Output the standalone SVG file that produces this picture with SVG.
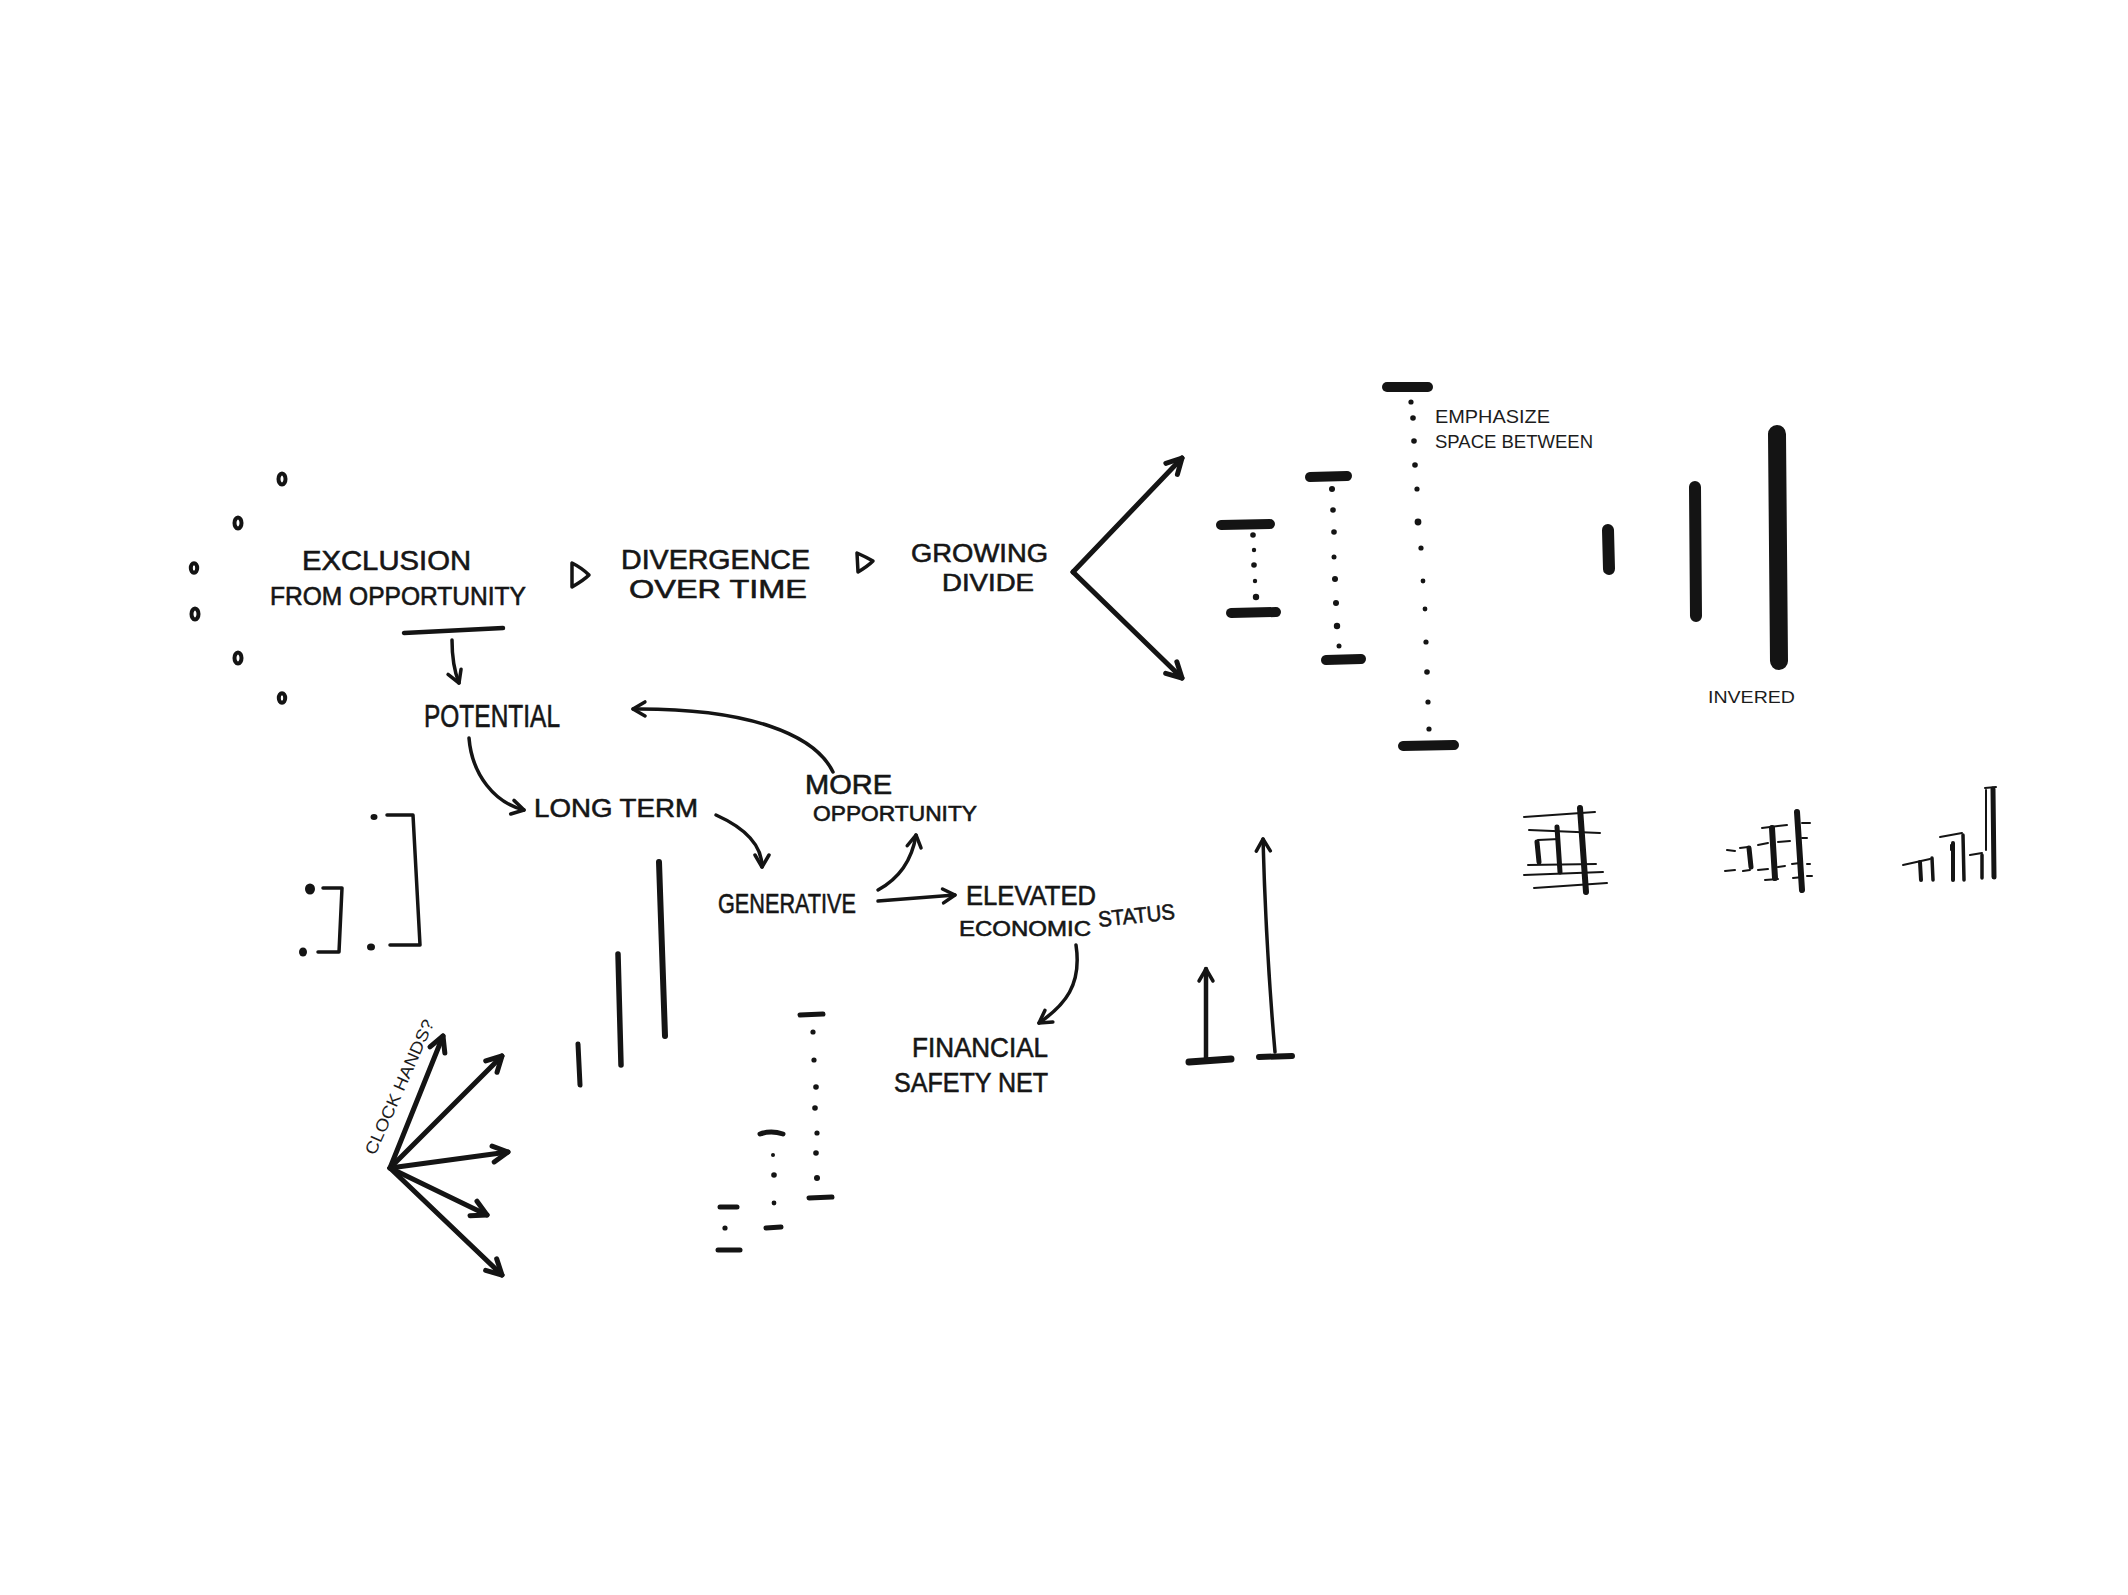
<svg xmlns="http://www.w3.org/2000/svg" width="2128" height="1595" viewBox="0 0 2128 1595">
<style>
  .t{font-family:"Liberation Sans","DejaVu Sans",sans-serif;fill:#161616;stroke:#161616;stroke-width:0.6;}
  .s{font-family:"Liberation Sans","DejaVu Sans",sans-serif;fill:#1c1c1c;}
  .ln{fill:none;stroke:#141414;stroke-linecap:round;stroke-linejoin:round;}
  .c{stroke-width:3.5;}
  .h{stroke-width:5;}
  .bar{fill:none;stroke:#141414;stroke-linecap:round;}
  .dot{fill:#141414;}
</style>
<defs>
  <marker id="aT" markerUnits="userSpaceOnUse" viewBox="-20 -12 24 24" refX="0" refY="0" markerWidth="24" markerHeight="24" orient="auto" overflow="visible">
    <path d="M-15,-8 L0,0 L-15,8" fill="none" stroke="#141414" stroke-width="5" stroke-linecap="round" stroke-linejoin="round"/>
  </marker>
  <marker id="a" markerUnits="userSpaceOnUse" viewBox="-20 -12 24 24" refX="0" refY="0" markerWidth="24" markerHeight="24" orient="auto" overflow="visible">
    <path d="M-12,-7 L0,0 L-12,7" fill="none" stroke="#141414" stroke-width="3.5" stroke-linecap="round" stroke-linejoin="round"/>
  </marker>
</defs>
<rect width="2128" height="1595" fill="#ffffff"/>

<!-- nodes -->
<g id="exclusion">
  <text class="t" x="302" y="570" font-size="28" textLength="169" lengthAdjust="spacingAndGlyphs">EXCLUSION</text>
  <text class="t" x="270" y="605" font-size="25" textLength="256" lengthAdjust="spacingAndGlyphs">FROM OPPORTUNITY</text>
  <path class="ln" stroke-width="4.5" d="M404,633 L503,628"/>
</g>
<g id="divergence">
  <text class="t" x="621" y="569" font-size="27" textLength="189" lengthAdjust="spacingAndGlyphs">DIVERGENCE</text>
  <text class="t" x="629" y="598" font-size="26" textLength="178" lengthAdjust="spacingAndGlyphs">OVER TIME</text>
</g>
<g id="growing-divide">
  <text class="t" x="911" y="562" font-size="26" textLength="137" lengthAdjust="spacingAndGlyphs">GROWING</text>
  <text class="t" x="942" y="591" font-size="24" textLength="92" lengthAdjust="spacingAndGlyphs">DIVIDE</text>
</g>
<g id="potential">
  <text class="t" x="424" y="727" font-size="31" textLength="136" lengthAdjust="spacingAndGlyphs">POTENTIAL</text>
</g>
<g id="long-term">
  <text class="t" x="534" y="817" font-size="26" textLength="164" lengthAdjust="spacingAndGlyphs">LONG TERM</text>
</g>
<g id="more-opportunity">
  <text class="t" x="805" y="794" font-size="27" textLength="87" lengthAdjust="spacingAndGlyphs">MORE</text>
  <text class="t" x="813" y="821" font-size="22" textLength="164" lengthAdjust="spacingAndGlyphs">OPPORTUNITY</text>
</g>
<g id="generative">
  <text class="t" x="718" y="913" font-size="28" textLength="138" lengthAdjust="spacingAndGlyphs">GENERATIVE</text>
</g>
<g id="elevated">
  <text class="t" x="966" y="905" font-size="28" textLength="130" lengthAdjust="spacingAndGlyphs">ELEVATED</text>
  <text class="t" x="959" y="936" font-size="22" textLength="132" lengthAdjust="spacingAndGlyphs">ECONOMIC</text>
  <text class="t" x="1099" y="927" font-size="22" textLength="77" lengthAdjust="spacingAndGlyphs" transform="rotate(-6 1099 927)">STATUS</text>
</g>
<g id="financial">
  <text class="t" x="912" y="1057" font-size="28" textLength="136" lengthAdjust="spacingAndGlyphs">FINANCIAL</text>
  <text class="t" x="894" y="1092" font-size="28" textLength="154" lengthAdjust="spacingAndGlyphs">SAFETY NET</text>
</g>

<!-- opportunity dots -->
<g id="dots" fill="#ffffff" stroke="#141414" stroke-width="4">
  <ellipse cx="282" cy="479" rx="3.5" ry="5.5"/>
  <ellipse cx="238" cy="523" rx="3.5" ry="5.5"/>
  <ellipse cx="194" cy="568" rx="3.2" ry="4.8"/>
  <ellipse cx="195" cy="614" rx="3.5" ry="5.5"/>
  <ellipse cx="238" cy="658" rx="3.5" ry="5.5"/>
  <ellipse cx="282" cy="698" rx="3.2" ry="4.8"/>
</g>

<!-- connectors -->
<g id="connectors" class="ln">
  <path class="c" d="M572,563 L572,587 Q584,580 589,575 Q582,568 572,563 Z"/>
  <path class="c" d="M857,553 L858,572 Q868,566 873,561 Q866,557 857,553 Z"/>
  <path class="c" d="M452,640 C452,660 455,673 459,683" marker-end="url(#a)"/>
  <path class="c" d="M469,738 C472,775 495,803 524,810" marker-end="url(#a)"/>
  <path class="c" d="M716,815 C745,828 762,845 762,867" marker-end="url(#a)"/>
  <path class="c" d="M878,890 C900,878 912,860 916,835" marker-end="url(#a)"/>
  <path class="c" d="M878,901 L955,895" marker-end="url(#a)"/>
  <path class="c" d="M833,772 C815,735 750,708 633,709" marker-end="url(#a)"/>
  <path class="c" d="M1076,945 C1082,985 1065,1005 1039,1023" marker-end="url(#a)"/>
  <path class="h" d="M1073,572 L1182,458" marker-end="url(#aT)"/>
  <path class="h" d="M1073,572 L1182,678" marker-end="url(#aT)"/>
</g>

<!-- growing divide bars -->
<g id="divide-bars">
  <g class="bar" stroke-width="10">
    <path d="M1221,525 L1270,524"/><path d="M1231,613 L1276,612"/>
    <path d="M1310,477 L1347,476"/><path d="M1326,660 L1361,659"/>
    <path d="M1387,387 L1428,387"/><path d="M1403,746 L1454,745"/>
  </g>
  <g class="dot">
    <circle cx="1253" cy="535" r="2.8"/><circle cx="1254" cy="550" r="2.2"/><circle cx="1254" cy="565" r="2.8"/><circle cx="1255" cy="581" r="2.2"/><circle cx="1256" cy="597" r="3.2"/>
    <circle cx="1332" cy="489" r="3"/><circle cx="1333" cy="510" r="2.8"/><circle cx="1334" cy="532" r="2.8"/><circle cx="1334" cy="557" r="2.5"/><circle cx="1335" cy="579" r="3"/><circle cx="1336" cy="603" r="3"/><circle cx="1337" cy="626" r="3.2"/><circle cx="1339" cy="646" r="2.5"/>
    <circle cx="1411" cy="402" r="2.6"/><circle cx="1413" cy="418" r="2.8"/><circle cx="1414" cy="441" r="2.8"/><circle cx="1415" cy="465" r="2.8"/><circle cx="1417" cy="489" r="2.6"/><circle cx="1418" cy="522" r="3.4"/><circle cx="1421" cy="548" r="2.6"/><circle cx="1423" cy="581" r="2.4"/><circle cx="1425" cy="609" r="2.4"/><circle cx="1426" cy="642" r="2.6"/><circle cx="1427" cy="672" r="2.8"/><circle cx="1428" cy="702" r="2.6"/><circle cx="1429" cy="729" r="2.6"/>
  </g>
  <text class="s" x="1435" y="423" font-size="18" textLength="115" lengthAdjust="spacingAndGlyphs">EMPHASIZE</text>
  <text class="s" x="1435" y="448" font-size="18" textLength="158" lengthAdjust="spacingAndGlyphs">SPACE BETWEEN</text>
</g>

<!-- inverted bars -->
<g id="inverted">
  <g class="bar">
    <path stroke-width="12" d="M1608,530 L1609,569"/>
    <path stroke-width="12" d="M1695,487 L1696,616"/>
    <path stroke-width="18" d="M1777,434 L1779,661"/>
  </g>
  <text class="s" x="1708" y="703" font-size="17" textLength="87" lengthAdjust="spacingAndGlyphs">INVERED</text>
</g>

<!-- brackets -->
<g id="brackets">
  <path class="ln" stroke-width="3.5" d="M387,815 L413,815 L420,945 L390,945"/>
  <path class="ln" stroke-width="3.5" d="M323,888 L342,888 L339,952 L318,952"/>
  <g class="dot">
    <ellipse cx="374" cy="817" rx="3.5" ry="3"/>
    <ellipse cx="371" cy="947" rx="4" ry="3.5"/>
    <ellipse cx="310" cy="889" rx="5" ry="5.5"/>
    <ellipse cx="303" cy="952" rx="4" ry="4.5"/>
  </g>
</g>

<!-- rising bars -->
<g id="rising-bars" class="bar">
  <path stroke-width="5" d="M578,1044 L580,1085"/>
  <path stroke-width="5.5" d="M618,954 L621,1065"/>
  <path stroke-width="6" d="M659,862 L665,1036"/>
</g>

<!-- clock hands -->
<g id="clock-hands" class="ln">
  <path class="h" d="M390,1168 L443,1036" marker-end="url(#aT)"/>
  <path class="h" d="M390,1168 L502,1056" marker-end="url(#aT)"/>
  <path class="h" d="M390,1168 L508,1152" marker-end="url(#aT)"/>
  <path class="h" d="M390,1168 L487,1215" marker-end="url(#aT)"/>
  <path class="h" d="M390,1168 L502,1275" marker-end="url(#aT)"/>
</g>
<text class="s" x="375" y="1156" font-size="17" textLength="146" lengthAdjust="spacingAndGlyphs" transform="rotate(-66 375 1156)">CLOCK HANDS?</text>

<!-- small dotted bars -->
<g id="dotted-steps">
  <g class="bar" stroke-width="5">
    <path d="M800,1015 L823,1014"/><path d="M809,1198 L832,1197"/>
    <path d="M760,1134 Q771,1130 783,1134"/><path d="M766,1228 L781,1227"/>
    <path d="M720,1207 L737,1207"/><path d="M718,1250 L740,1250"/>
  </g>
  <g class="dot">
    <circle cx="813" cy="1032" r="2.6"/><circle cx="814" cy="1060" r="2.6"/><circle cx="816" cy="1087" r="2.8"/><circle cx="815" cy="1108" r="2.8"/><circle cx="817" cy="1133" r="2.6"/><circle cx="816" cy="1153" r="2.8"/><circle cx="817" cy="1178" r="3"/>
    <circle cx="773" cy="1155" r="2"/><circle cx="774" cy="1175" r="2.8"/><circle cx="774" cy="1203" r="2.4"/>
    <circle cx="725" cy="1228" r="2.6"/>
  </g>
</g>

<!-- up arrows -->
<g id="up-arrows" class="ln">
  <path stroke-width="4.5" d="M1206,1060 L1206,969" marker-end="url(#a)"/>
  <path class="bar" stroke-width="7" d="M1189,1062 L1231,1059"/>
  <path stroke-width="3.5" d="M1275,1052 Q1266,950 1263,839" marker-end="url(#a)"/>
  <path class="bar" stroke-width="6" d="M1259,1057 L1292,1056"/>
</g>

<!-- mini charts -->
<g id="mini-chart-1" class="ln">
  <g stroke-width="2">
    <path d="M1524,817 L1595,812"/><path d="M1529,830 L1600,833"/><path d="M1538,840 L1559,839"/>
    <path d="M1528,865 L1596,864"/><path d="M1524,875 L1603,872"/><path d="M1534,888 L1607,883"/>
  </g>
  <path stroke-width="6" d="M1580,808 L1586,892"/>
  <path stroke-width="5" d="M1557,827 L1560,872"/>
  <path stroke-width="5" d="M1537,842 L1539,862"/>
</g>
<g id="mini-chart-2" class="ln">
  <g stroke-width="2">
    <path d="M1762,828 L1787,825"/><path d="M1802,823 L1810,823"/>
    <path d="M1758,845 L1768,843"/><path d="M1778,842 L1790,841"/><path d="M1802,838 L1807,838"/>
    <path d="M1727,850 L1735,851"/><path d="M1740,848 L1748,847"/>
    <path d="M1725,871 L1735,870"/><path d="M1743,871 L1750,870"/><path d="M1758,870 L1768,869"/><path d="M1778,867 L1785,866"/><path d="M1792,864 L1800,863"/><path d="M1807,864 L1810,864"/>
    <path d="M1765,880 L1778,879"/><path d="M1793,878 L1803,877"/><path d="M1807,876 L1812,876"/>
  </g>
  <path stroke-width="6" d="M1797,812 L1802,890"/>
  <path stroke-width="6" d="M1772,828 L1775,878"/>
  <path stroke-width="5" d="M1749,848 L1751,867"/>
</g>
<g id="mini-chart-3" class="ln">
  <g stroke-width="2">
    <path d="M1903,865 L1930,859"/><path d="M1940,837 L1962,833"/><path d="M1970,855 L1982,853"/>
    <path d="M1985,788 L1996,787"/><path d="M1986,790 L1986,850"/><path d="M1951,845 L1951,850"/>
  </g>
  <path stroke-width="4" d="M1920,862 L1921,880"/>
  <path stroke-width="3.5" d="M1932,858 L1933,880"/>
  <path stroke-width="4" d="M1953,843 L1953,880"/>
  <path stroke-width="3.5" d="M1963,835 L1964,880"/>
  <path stroke-width="3.5" d="M1982,855 L1982,878"/>
  <path stroke-width="5" d="M1993,789 L1994,877"/>
</g>
</svg>
